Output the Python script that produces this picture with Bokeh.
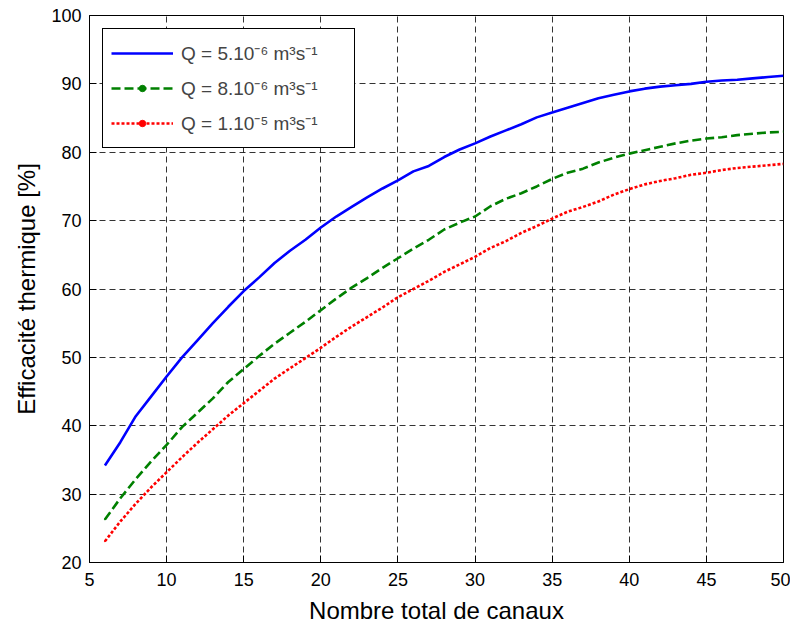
from bokeh.plotting import figure
from bokeh.models import Legend, LegendItem, FixedTicker, Range1d, ColumnDataSource, CDSView, IndexFilter
from bokeh.embed import file_html
from bokeh.resources import INLINE

x_vals = list(range(6, 51))
q_5e6 = [34.2, 37.6, 41.4, 44.3, 47.2, 50.0, 52.5, 55.0, 57.4, 59.7, 61.7, 63.8, 65.6, 67.2, 69.0,
         70.6, 72.0, 73.4, 74.7, 75.9, 77.2, 78.0, 79.3, 80.4, 81.3, 82.3, 83.2, 84.1, 85.1, 85.8,
         86.5, 87.2, 87.9, 88.4, 88.9, 89.3, 89.6, 89.8, 90.0, 90.3, 90.5, 90.6, 90.8, 91.0, 91.2]
q_8e6 = [26.3, 29.4, 32.2, 34.8, 37.2, 39.8, 41.9, 44.0, 46.4, 48.3, 50.2, 52.0, 53.6, 55.2, 56.9,
         58.6, 60.2, 61.6, 63.1, 64.5, 65.9, 67.2, 68.7, 69.7, 70.6, 72.1, 73.2, 74.0, 75.0, 76.1,
         77.0, 77.6, 78.5, 79.2, 79.8, 80.3, 80.8, 81.3, 81.7, 82.0, 82.2, 82.5, 82.7, 82.9, 83.0]
q_1e5 = [23.1, 26.0, 28.6, 31.0, 33.2, 35.4, 37.5, 39.5, 41.5, 43.3, 45.1, 46.9, 48.4, 49.9, 51.4,
         53.0, 54.5, 55.9, 57.3, 58.8, 60.0, 61.2, 62.5, 63.6, 64.7, 66.0, 67.0, 68.2, 69.2, 70.3,
         71.3, 72.0, 72.8, 73.8, 74.6, 75.3, 75.8, 76.2, 76.7, 77.0, 77.4, 77.7, 77.9, 78.1, 78.3]
labels = ["Q = 5.10\u207b\u2076 m\u00b3s\u207b\u00b9",
          "Q = 8.10\u207b\u2076 m\u00b3s\u207b\u00b9",
          "Q = 1.10\u207b\u2075 m\u00b3s\u207b\u00b9"]
x_ticks = [5, 10, 15, 20, 25, 30, 35, 40, 45, 50]
y_ticks = [20, 30, 40, 50, 60, 70, 80, 90, 100]

FONT = "Liberation Sans"

p = figure(width=790, height=626, output_backend="svg", toolbar_location=None,
           x_range=Range1d(5, 50), y_range=Range1d(20, 100),
           min_border_left=89, min_border_right=7, min_border_top=15, min_border_bottom=64)
p.outline_line_color = "black"
p.outline_line_width = 1
p.background_fill_color = "white"

for ax in (p.xaxis[0], p.yaxis[0]):
    ax.major_tick_in = 7
    ax.major_tick_out = 0
    ax.minor_tick_line_color = None
    ax.axis_line_color = "black"
    ax.major_tick_line_color = "black"
    ax.major_label_text_font = FONT
    ax.major_label_text_font_size = "18px"
    ax.major_label_text_color = "black"
    ax.axis_label_text_font = FONT
    ax.axis_label_text_font_size = "24px"
    ax.axis_label_text_font_style = "normal"
    ax.axis_label_text_color = "black"
p.xaxis.ticker = FixedTicker(ticks=x_ticks)
p.yaxis.ticker = FixedTicker(ticks=y_ticks)
p.xaxis.axis_label = "Nombre total de canaux"
p.yaxis.axis_label = "Efficacité thermique [%]"
p.xaxis.major_label_standoff = 10
p.yaxis.major_label_standoff = 8
p.xaxis.axis_label_standoff = 8
p.yaxis.axis_label_standoff = 8

for g in (p.xgrid[0], p.ygrid[0]):
    g.grid_line_color = "black"
    g.grid_line_alpha = 0.8
    g.grid_line_dash = "6 4"
    g.grid_line_width = 1
p.xgrid.ticker = FixedTicker(ticks=x_ticks)
p.ygrid.ticker = FixedTicker(ticks=y_ticks)

src = ColumnDataSource(dict(x=x_vals, a=q_5e6, b=q_8e6, c=q_1e5))
first = CDSView(filter=IndexFilter(indices=[0]))

r1 = p.line("x", "a", source=src, line_color="#0000FF", line_width=2.6)
r2 = p.line("x", "b", source=src, line_color="#008000", line_width=2.6, line_dash="9 4")
r3 = p.line("x", "c", source=src, line_color="#FF0000", line_width=2.6, line_dash="3 2")
m2 = p.scatter("x", "b", source=src, view=first, size=1, color="#008000")
m3 = p.scatter("x", "c", source=src, view=first, size=1, color="#FF0000")

legend = Legend(items=[LegendItem(label=labels[0], renderers=[r1]),
                       LegendItem(label=labels[1], renderers=[r2, m2]),
                       LegendItem(label=labels[2], renderers=[r3, m3])],
                location="top_left", margin=13, padding=8, spacing=3,
                glyph_width=62, glyph_height=16, label_height=32, label_standoff=8,
                label_width=165,
                label_text_font=FONT, label_text_font_size="19px",
                border_line_color="black", border_line_width=1, border_line_alpha=1.0,
                background_fill_color="white", background_fill_alpha=1.0)
p.add_layout(legend, "center")

open("out.html", "w").write(file_html(p, INLINE))
